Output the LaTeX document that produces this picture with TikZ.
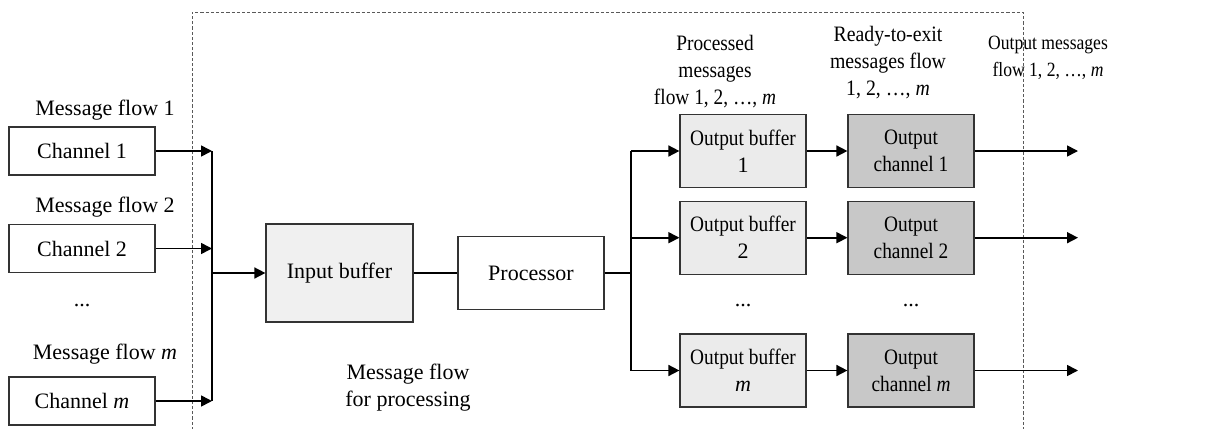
\documentclass[tikz,border=0pt]{standalone}
\usepackage{fontspec}
\setmainfont{Liberation Serif}
\usetikzlibrary{arrows.meta}
\definecolor{inbuf}{HTML}{F0F0F0}
\definecolor{outbuf}{HTML}{EBEBEB}
\definecolor{outch}{HTML}{C8C8C8}
\newcommand{\nx}[2]{\scalebox{#1}[1]{#2}}
\newcommand{\nxy}[3]{\scalebox{#1}[#2]{#3}}
\tikzset{
  txt/.style={font=\fontsize{11}{13.5}\selectfont, align=center, inner sep=0pt},
  box/.style={draw=black!80, line width=0.6pt, txt},
  chanbox/.style={box, minimum width=73pt, minimum height=24pt},
  obox/.style={box, minimum width=63pt, minimum height=36.5pt},
  conn/.style={line width=0.8pt},
  arr/.style={conn, -{Triangle[length=5.5pt,width=5.5pt]}},
  frame/.style={draw=black!65, line width=0.5pt, dash pattern=on 1.6pt off 1pt},
}
\begin{document}
\begin{tikzpicture}[x=0.5pt, y=-0.5pt]
\useasboundingbox (0,0) rectangle (1208,428);
% dashed frame
\draw[frame] (192,430) -- (192,12) -- (1023,12) -- (1023,430);

% input channels
\node[chanbox] (c1) at (82,151) {Channel 1};
\node[chanbox] (c2) at (82,248.5) {Channel 2};
\node[chanbox] (cm) at (82,401) {Channel \textit{m}};
\node[txt] (l1) at (105,110) {Message flow 1};
\node[txt] (l2) at (105,207) {Message flow 2};
\node[txt] (lm) at (105,354) {Message flow \textit{m}};
\node[txt] (d1) at (82,306) {...};

\coordinate (j1) at (212,151);
\coordinate (j2) at (212,248.5);
\coordinate (jm) at (212,401);
\coordinate (jin) at (212,273);

\node[box, fill=inbuf, minimum width=73.5pt, minimum height=49pt] (ib) at (339.5,273) {Input buffer};
\node[box, minimum width=73pt, minimum height=36.5pt] (pr) at (531,273) {Processor};
\node[txt] (lp) at (408,388) {Message flow\\for processing};

\draw[arr] (c1) -- (j1);
\draw[arr] (c2) -- (j2);
\draw[arr] (cm) -- (jm);
\draw[conn] (j1) -- (jm);
\draw[arr] (jin) -- (ib);
\draw[conn] (ib) -- (pr);

% output side
\node[obox, fill=outbuf] (ob1) at (743,151) {\nx{0.88}{Output buffer}\\1};
\node[obox, fill=outbuf] (ob2) at (743,237.7) {\nx{0.88}{Output buffer}\\2};
\node[obox, fill=outbuf] (obm) at (743,370.5) {\nx{0.88}{Output buffer}\\\textit{m}};
\node[obox, fill=outch] (oc1) at (911,151) {\nx{0.88}{Output}\\\nx{0.88}{channel 1}};
\node[obox, fill=outch] (oc2) at (911,237.7) {\nx{0.88}{Output}\\\nx{0.88}{channel 2}};
\node[obox, fill=outch] (ocm) at (911,370.5) {\nx{0.88}{Output}\\\nx{0.88}{channel \textit{m}}};
\node[txt] (d2) at (743,306) {...};
\node[txt] (d3) at (911,306) {...};

\coordinate (sp) at (631,273);
\coordinate (s1) at (631,151);
\coordinate (s2) at (631,237.7);
\coordinate (sm) at (631,370.5);
\draw[conn] (pr) -- (sp);
\draw[conn] (s1) -- (sm);
\draw[arr] (s1) -- (ob1);
\draw[arr] (s2) -- (ob2);
\draw[arr] (sm) -- (obm);
\draw[arr] (ob1) -- (oc1);
\draw[arr] (ob2) -- (oc2);
\draw[arr] (obm) -- (ocm);

\coordinate (e1) at (1078,151);
\coordinate (e2) at (1078,237.7);
\coordinate (em) at (1078,370.5);
\draw[arr] (oc1) -- (e1);
\draw[arr] (oc2) -- (e2);
\draw[arr] (ocm) -- (em);

\node[txt] (lpm) at (715,72) {\nx{0.88}{Processed}\\\nx{0.88}{messages}\\\nx{0.88}{flow 1, 2, \dots, \textit{m}}};
\node[txt] (lre) at (888,63) {\nx{0.9}{Ready-to-exit}\\\nx{0.9}{messages flow}\\\nx{0.9}{1, 2, \dots, \textit{m}}};
\node[txt] (lom) at (1048,58) {\nxy{0.8}{0.92}{Output messages}\\\nxy{0.8}{0.92}{flow 1, 2, \dots, \textit{m}}};
\end{tikzpicture}
\end{document}
